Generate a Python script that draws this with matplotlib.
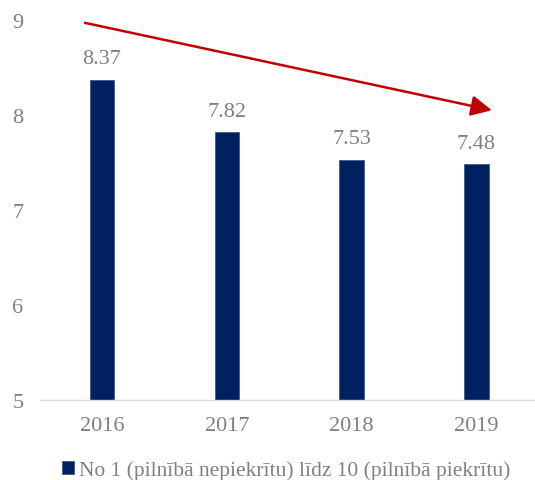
import matplotlib
matplotlib.use("Agg")
import matplotlib.pyplot as plt
from matplotlib.patches import FancyArrowPatch

years = ["2016", "2017", "2018", "2019"]
values = [8.37, 7.82, 7.53, 7.48]
series_name = "No 1 (pilnībā nepiekrītu) līdz 10 (pilnībā piekrītu)"
y_ticks = [5, 6, 7, 8, 9]
trend_start = (-0.136, 8.97)
trend_end = (3.125, 8.05)

plt.rcParams['font.family'] = ['Liberation Serif', 'DejaVu Serif']
gray = "#808080"
navy = "#002060"

fig = plt.figure(figsize=(5.35, 4.81), dpi=100)
ax = fig.add_axes([40/535, 1 - 401/481, 495/535, (401 - 21)/481])

x = list(range(len(years)))
bars = ax.bar(x, values, width=0.195, color=navy, edgecolor="#3a5a8c", linewidth=0.6,
              label=series_name, zorder=2)
for xi, v in zip(x, values):
    ax.text(xi, v + 0.12, f"{v:.2f}", ha="center", va="bottom", fontsize=16, color=gray)

ax.set_ylim(5, 9)
ax.set_xlim(-0.497, 3.47)
ax.set_yticks(y_ticks)
ax.set_xticks(x)
ax.set_xticklabels(years)
ax.tick_params(axis="both", length=0, labelsize=16, labelcolor=gray)
ax.tick_params(axis="y", pad=12)
ax.tick_params(axis="x", pad=11.5)
for s in ["top", "right", "left"]:
    ax.spines[s].set_visible(False)
ax.spines["bottom"].set_color("#d9d9d9")
ax.spines["bottom"].set_linewidth(1.0)

# trend arrow
arrow = FancyArrowPatch(trend_start, trend_end,
                        arrowstyle="-|>,head_length=0.45,head_width=0.22", mutation_scale=28,
                        color="#C00000", linewidth=1.8, zorder=3, shrinkA=0, shrinkB=0)
ax.add_patch(arrow)

leg = fig.legend(handles=[bars], labels=[series_name], loc="center",
                 bbox_to_anchor=(0.535, 1 - 471/481), frameon=False, fontsize=15.5,
                 handlelength=0.55, handleheight=0.55, handletextpad=0.2)
for t in leg.get_texts():
    t.set_color(gray)

fig.savefig("out.png", dpi=100)
